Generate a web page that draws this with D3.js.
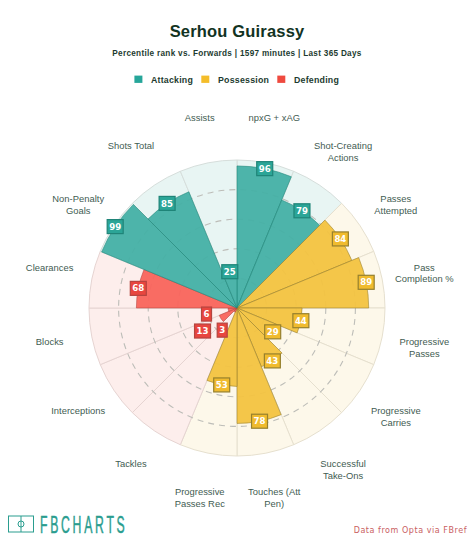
<!DOCTYPE html>
<html><head><meta charset="utf-8">
<script src="https://cdn.jsdelivr.net/npm/d3@7/dist/d3.min.js"></script>
<style>html,body{margin:0;padding:0;background:#fff}svg{display:block}</style>
</head><body><svg id="c" width="474" height="541"></svg>
<script>
const categories=[
 ["npxG + xAG"],["Shot-Creating","Actions"],["Passes","Attempted"],["Pass","Completion %"],
 ["Progressive","Passes"],["Progressive","Carries"],["Successful","Take-Ons"],["Touches (Att","Pen)"],
 ["Progressive","Passes Rec"],["Tackles"],["Interceptions"],["Blocks"],
 ["Clearances"],["Non-Penalty","Goals"],["Shots Total"],["Assists"]];
const values=[96,79,84,89,44,29,43,78,53,3,13,6,68,99,85,25];
const groups=["A","A","P","P","P","P","P","P","P","D","D","D","D","A","A","A"];
const groupNames={A:"Attacking",P:"Possession",D:"Defending"};
const gridTicks=[20,40,60,80];
const colours={A:{bg:"#e8f5f3",sep:"#d6dedb",bar:"#45b0a5",box:"#2ba597",edge:"#1f8478"},
               P:{bg:"#fdf8ea",sep:"#e6e0cf",bar:"#f3c340",box:"#f0bb2e",edge:"#96802e"},
               D:{bg:"#fdeeec",sep:"#e6d4d2",bar:"#f9645c",box:"#e8463f",edge:"#b5443f"}};
const font="'Liberation Sans',Arial,sans-serif";
const svg=d3.select("#c");
const cx=237,cy=308,R=148;
const r=d3.scaleLinear().domain([0,100]).range([0,R]);
const ang=d3.scaleBand().domain(d3.range(categories.length)).range([0,2*Math.PI]);
const g=svg.append("g").attr("transform",`translate(${cx},${cy})`);
const arc=d3.arc().innerRadius(0);
const idx=d3.range(values.length);
const polar=(i,rad)=>{const a=ang(i)+ang.bandwidth()/2;return [rad*Math.sin(a),-rad*Math.cos(a)];};

g.selectAll("path.bg").data(idx).join("path").attr("class","bg")
 .attr("d",i=>arc({outerRadius:R,startAngle:ang(i),endAngle:ang(i)+ang.bandwidth()}))
 .attr("fill",i=>colours[groups[i]].bg).attr("stroke",i=>colours[groups[i]].sep).attr("stroke-width",1);
g.selectAll("circle.grid").data(gridTicks).join("circle").attr("class","grid")
 .attr("r",d=>r(d)).attr("fill","none").attr("stroke","#bdbdb8").attr("stroke-width",1.1).attr("stroke-dasharray","6 5");
g.selectAll("path.bar").data(idx).join("path").attr("class","bar")
 .attr("d",i=>arc({outerRadius:r(values[i]),startAngle:ang(i),endAngle:ang(i)+ang.bandwidth()}))
 .attr("fill",i=>colours[groups[i]].bar).attr("fill-opacity",.95)
 .attr("stroke",i=>colours[groups[i]].edge).attr("stroke-opacity",.7).attr("stroke-width",.8);

const lab=g.selectAll("g.val").data(idx).join("g").attr("class","val")
 .attr("transform",i=>{const v=values[i];const p=polar(i,r(v<20?v+15:v));return `translate(${p[0]},${p[1]})`;});
const txt=lab.append("text").attr("text-anchor","middle").attr("dy","0.36em")
 .attr("font-family","'DejaVu Sans',sans-serif").attr("font-weight","bold").attr("font-size",8.6)
 .attr("fill","#fff").text(i=>values[i]);
txt.each(function(i){const b=this.getBBox();
 d3.select(this.parentNode).insert("rect","text").attr("x",b.x-2).attr("y",-7).attr("width",b.width+4).attr("height",14)
  .attr("fill",colours[groups[i]].box).attr("stroke",colours[groups[i]].edge).attr("stroke-width",1.2);});

const cat=g.selectAll("text.cat").data(idx).join("text").attr("class","cat")
 .attr("text-anchor","middle").attr("font-family",font).attr("font-size",9.4).attr("letter-spacing",.02).attr("fill","#3f5c52");
cat.each(function(i){const p=polar(i,191),ls=categories[i];
 d3.select(this).selectAll("tspan").data(ls).join("tspan").attr("x",p[0])
  .attr("y",(d,k)=>p[1]+k*11.7).text(d=>d);});

svg.append("text").attr("x",237).attr("y",37).attr("text-anchor","middle").attr("font-family",font)
 .attr("font-weight","bold").attr("font-size",16.5).attr("fill","#12331f").attr("letter-spacing",.18).text("Serhou Guirassy");
svg.append("text").attr("x",237).attr("y",55.5).attr("text-anchor","middle").attr("font-family",font)
 .attr("font-weight","bold").attr("font-size",8.2).attr("letter-spacing",.3).attr("fill","#1d3b30")
 .text("Percentile rank vs. Forwards | 1597 minutes | Last 365 Days");
const legendX={A:[134.4,151],P:[201.3,218],D:[277.3,294]};
Object.keys(groupNames).forEach(k=>{
 svg.append("rect").attr("x",legendX[k][0]).attr("y",75.6).attr("width",8).attr("height",7.3).attr("fill",k=="A"?"#26a69a":k=="P"?"#f4bd2a":"#ef4a3f");
 svg.append("text").attr("x",legendX[k][1]).attr("y",83).attr("font-family",font).attr("font-weight","bold")
  .attr("font-size",8.8).attr("letter-spacing",.22).attr("fill","#1d3b30").text(groupNames[k]);
});
// logo
const teal="#2a9d8f";
const logo=svg.append("g").attr("stroke",teal).attr("fill","none").attr("stroke-width",1);
logo.append("rect").attr("x",8.5).attr("y",516).attr("width",25).attr("height",16);
logo.append("line").attr("x1",21).attr("x2",21).attr("y1",516).attr("y2",532);
logo.append("circle").attr("cx",21).attr("cy",524).attr("r",3);
svg.append("text").attr("transform","translate(40,533) scale(.68,1.37)").attr("font-family",font)
 .attr("font-size",18).attr("letter-spacing",4).attr("fill",teal).attr("stroke",teal).attr("stroke-width",.35).text("FBCHARTS");
svg.append("text").attr("x",467).attr("y",532.5).attr("text-anchor","end").attr("font-family","'DejaVu Sans',sans-serif")
 .attr("font-size",8).attr("letter-spacing",.55).attr("fill","#c9605f").text("Data from Opta via FBref");
</script></body></html>
